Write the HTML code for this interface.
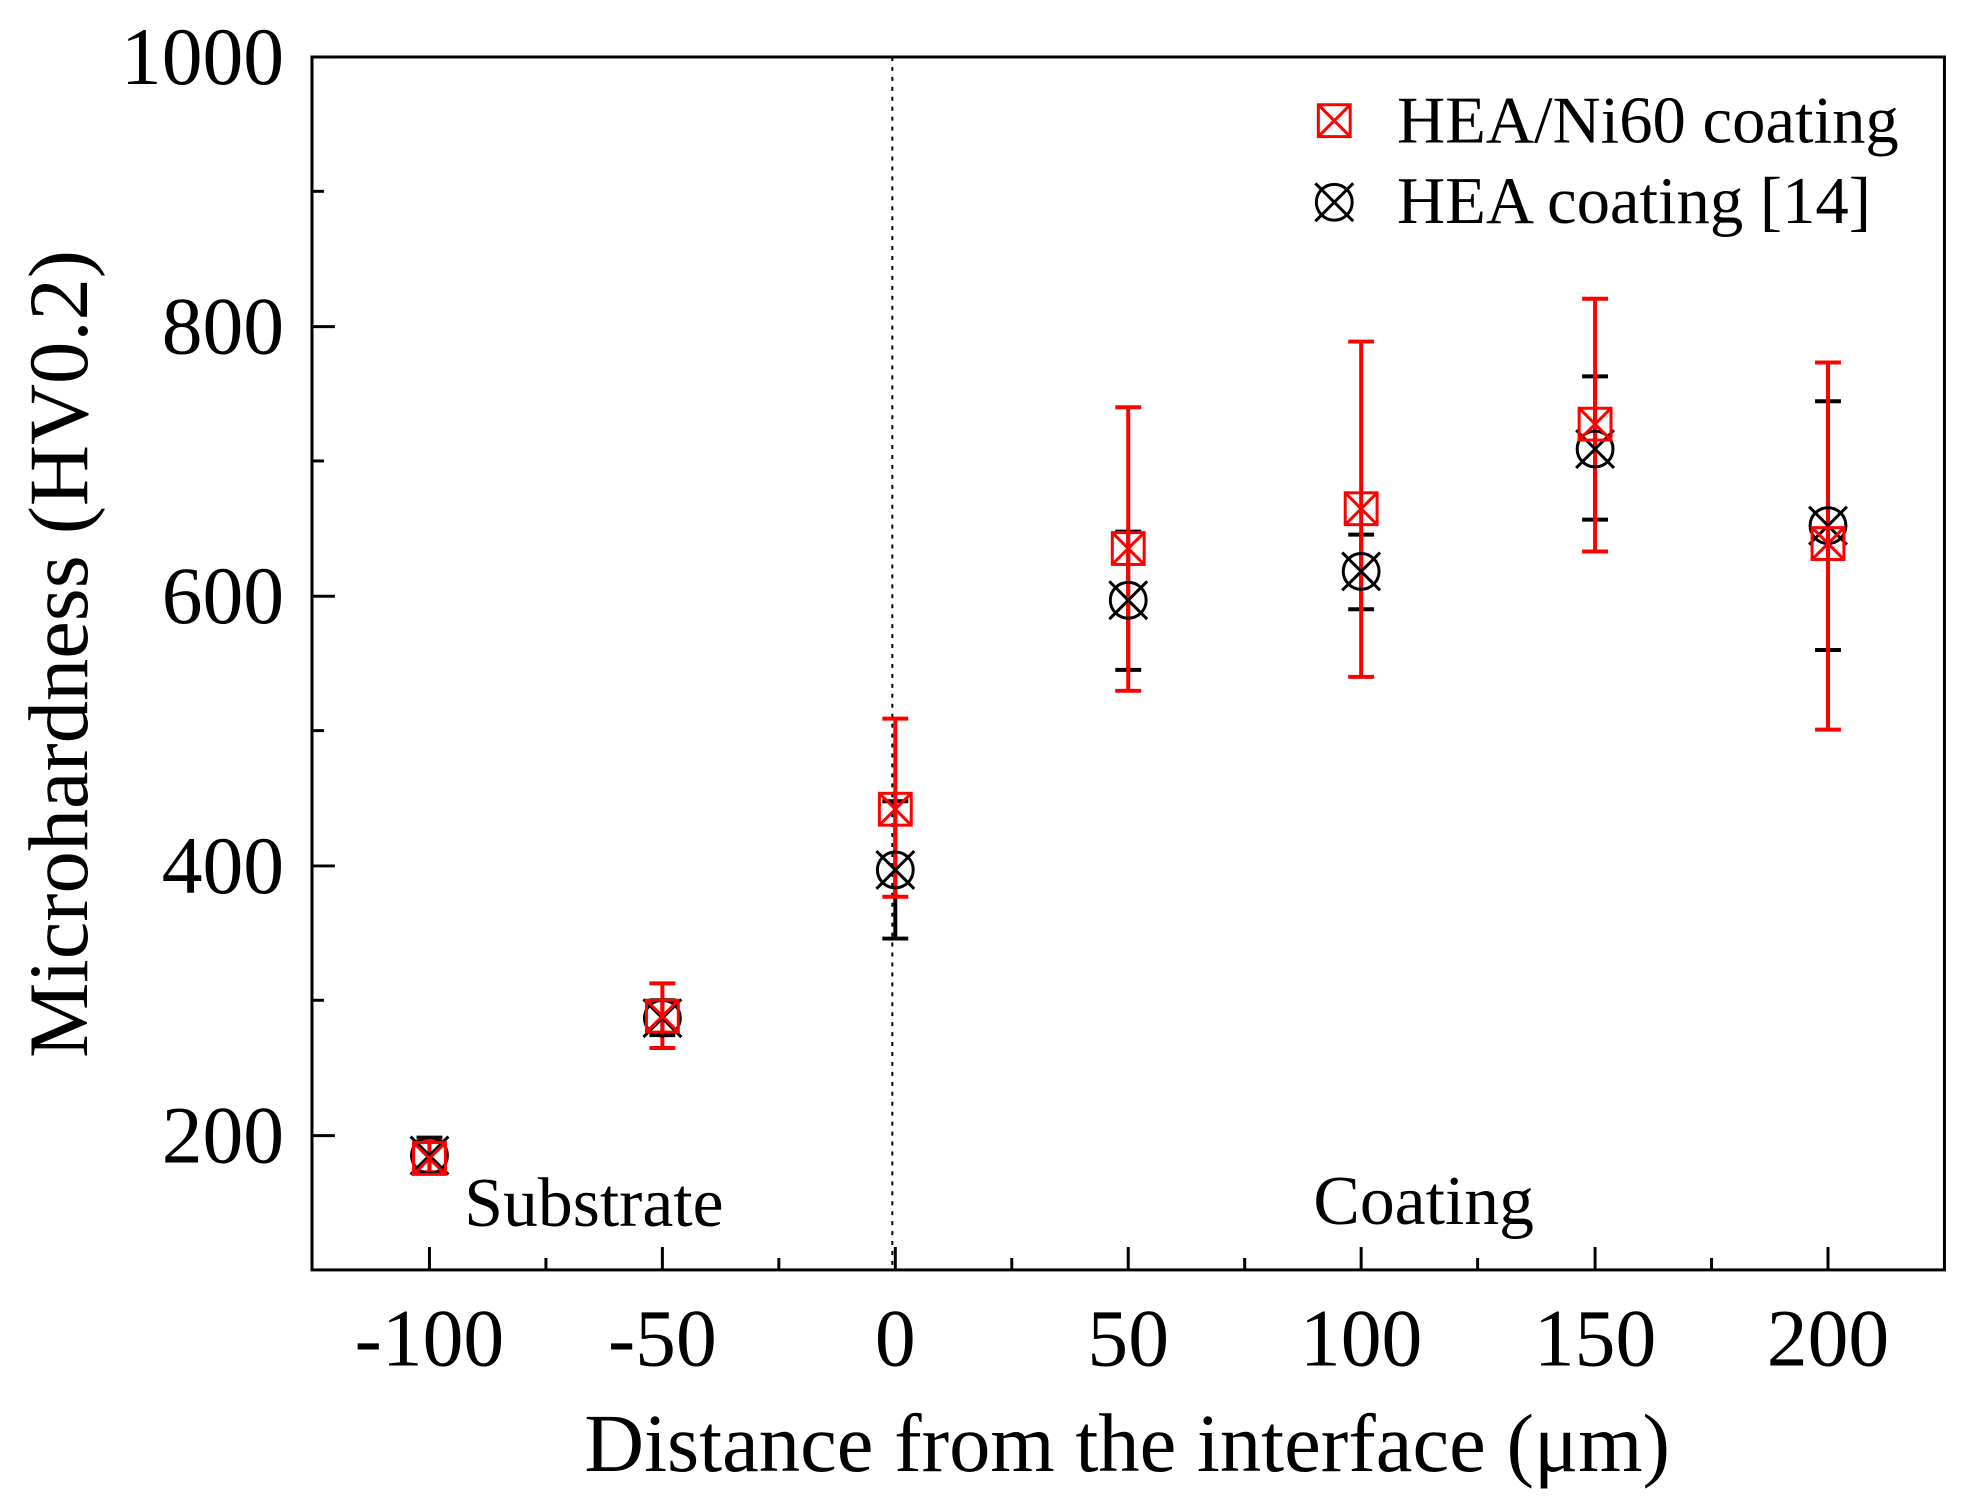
<!DOCTYPE html>
<html><head><meta charset="utf-8"><style>
html,body{margin:0;padding:0;background:#fff;}
svg{display:block;font-family:"Liberation Serif",serif;}
</style></head><body>
<svg width="1971" height="1512" viewBox="0 0 1971 1512" xmlns="http://www.w3.org/2000/svg">
<rect width="1971" height="1512" fill="#fff"/>
<g transform="translate(312,57) scale(0.9954,0.995) translate(-312,-57)">
<line x1="895" y1="57" x2="895" y2="1276" stroke="#000" stroke-width="2" stroke-dasharray="4,6"/>
<rect x="312" y="57" width="1640" height="1219" fill="none" stroke="#000" stroke-width="3"/>
<g stroke="#000" stroke-width="3">
<line x1="312" y1="57" x2="335" y2="57"/>
<line x1="312" y1="192" x2="324" y2="192"/>
<line x1="312" y1="328" x2="335" y2="328"/>
<line x1="312" y1="463" x2="324" y2="463"/>
<line x1="312" y1="599" x2="335" y2="599"/>
<line x1="312" y1="734" x2="324" y2="734"/>
<line x1="312" y1="870" x2="335" y2="870"/>
<line x1="312" y1="1005" x2="324" y2="1005"/>
<line x1="312" y1="1141" x2="335" y2="1141"/>
<line x1="430" y1="1276" x2="430" y2="1253"/>
<line x1="547" y1="1276" x2="547" y2="1264"/>
<line x1="664" y1="1276" x2="664" y2="1253"/>
<line x1="781" y1="1276" x2="781" y2="1264"/>
<line x1="898" y1="1276" x2="898" y2="1253"/>
<line x1="1015" y1="1276" x2="1015" y2="1264"/>
<line x1="1132" y1="1276" x2="1132" y2="1253"/>
<line x1="1249" y1="1276" x2="1249" y2="1264"/>
<line x1="1366" y1="1276" x2="1366" y2="1253"/>
<line x1="1483" y1="1276" x2="1483" y2="1264"/>
<line x1="1601" y1="1276" x2="1601" y2="1253"/>
<line x1="1718" y1="1276" x2="1718" y2="1264"/>
<line x1="1835" y1="1276" x2="1835" y2="1253"/>
</g>
<g font-size="82" text-anchor="end" fill="#000">
<text x="284" y="84">1000</text>
<text x="284" y="355">800</text>
<text x="284" y="626">600</text>
<text x="284" y="897">400</text>
<text x="284" y="1168">200</text>
</g>
<g font-size="82" text-anchor="middle" fill="#000">
<text x="430" y="1372">-100</text>
<text x="664" y="1372">-50</text>
<text x="898" y="1372">0</text>
<text x="1132" y="1372">50</text>
<text x="1366" y="1372">100</text>
<text x="1601" y="1372">150</text>
<text x="1835" y="1372">200</text>
</g>
<text x="1131" y="1478" font-size="83" text-anchor="middle">Distance from the interface (μm)</text>
<text transform="translate(86,657) rotate(-90)" font-size="85" text-anchor="middle">Microhardness (HV0.2)</text>
<text x="465" y="1232" font-size="70">Substrate</text>
<text x="1318" y="1230" font-size="70">Coating</text>

<g stroke="#000" stroke-width="4" fill="none">
<path d="M430 1178V1143M417 1178H443M417 1143H443"/>
<path d="M664 1040V1005M651 1040H677M651 1005H677"/>
<path d="M898 943V805M885 943H911M885 805H911"/>
<path d="M1132 673V534M1119 673H1145M1119 534H1145"/>
<path d="M1366 612V537M1353 612H1379M1353 537H1379"/>
<path d="M1601 522V378M1588 522H1614M1588 378H1614"/>
<path d="M1835 653V403M1822 653H1848M1822 403H1848"/>
</g>
<g stroke="#ff0000" stroke-width="4" fill="none">
<path d="M430 1178V1146M417 1178H443M417 1146H443"/>
<path d="M664 1053V988M651 1053H677M651 988H677"/>
<path d="M898 901V722M885 901H911M885 722H911"/>
<path d="M1132 694V409M1119 694H1145M1119 409H1145"/>
<path d="M1366 680V343M1353 680H1379M1353 343H1379"/>
<path d="M1601 554V300M1588 554H1614M1588 300H1614"/>
<path d="M1835 733V364M1822 733H1848M1822 364H1848"/>
</g>
<g stroke="#000" stroke-width="3" fill="none">
<g transform="translate(430,1161)"><circle r="18"/><path d="M-19 -19L19 19M-19 19L19 -19"/></g>
<g transform="translate(664,1023)"><circle r="18"/><path d="M-19 -19L19 19M-19 19L19 -19"/></g>
<g transform="translate(898,874)"><circle r="18"/><path d="M-19 -19L19 19M-19 19L19 -19"/></g>
<g transform="translate(1132,603)"><circle r="18"/><path d="M-19 -19L19 19M-19 19L19 -19"/></g>
<g transform="translate(1366,574)"><circle r="18"/><path d="M-19 -19L19 19M-19 19L19 -19"/></g>
<g transform="translate(1601,451)"><circle r="18"/><path d="M-19 -19L19 19M-19 19L19 -19"/></g>
<g transform="translate(1835,528)"><circle r="18"/><path d="M-19 -19L19 19M-19 19L19 -19"/></g>
<g transform="translate(1339,203)"><circle r="18"/><path d="M-19 -19L19 19M-19 19L19 -19"/></g>
</g>
<g stroke="#ff0000" stroke-width="3" fill="none">
<g transform="translate(430,1164)"><rect x="-16" y="-16" width="32" height="32"/><path d="M-16 -16L16 16M-16 16L16 -16"/></g>
<g transform="translate(664,1021)"><rect x="-16" y="-16" width="32" height="32"/><path d="M-16 -16L16 16M-16 16L16 -16"/></g>
<g transform="translate(898,813)"><rect x="-16" y="-16" width="32" height="32"/><path d="M-16 -16L16 16M-16 16L16 -16"/></g>
<g transform="translate(1132,551)"><rect x="-16" y="-16" width="32" height="32"/><path d="M-16 -16L16 16M-16 16L16 -16"/></g>
<g transform="translate(1366,511)"><rect x="-16" y="-16" width="32" height="32"/><path d="M-16 -16L16 16M-16 16L16 -16"/></g>
<g transform="translate(1601,426)"><rect x="-16" y="-16" width="32" height="32"/><path d="M-16 -16L16 16M-16 16L16 -16"/></g>
<g transform="translate(1835,546)"><rect x="-16" y="-16" width="32" height="32"/><path d="M-16 -16L16 16M-16 16L16 -16"/></g>
<g transform="translate(1339,121)"><rect x="-16" y="-16" width="32" height="32"/><path d="M-16 -16L16 16M-16 16L16 -16"/></g>
</g>
<text x="1402" y="143" font-size="67">HEA/Ni60 coating</text>
<text x="1402" y="224" font-size="67">HEA coating [14]</text>
</g>
</svg>
</body></html>
